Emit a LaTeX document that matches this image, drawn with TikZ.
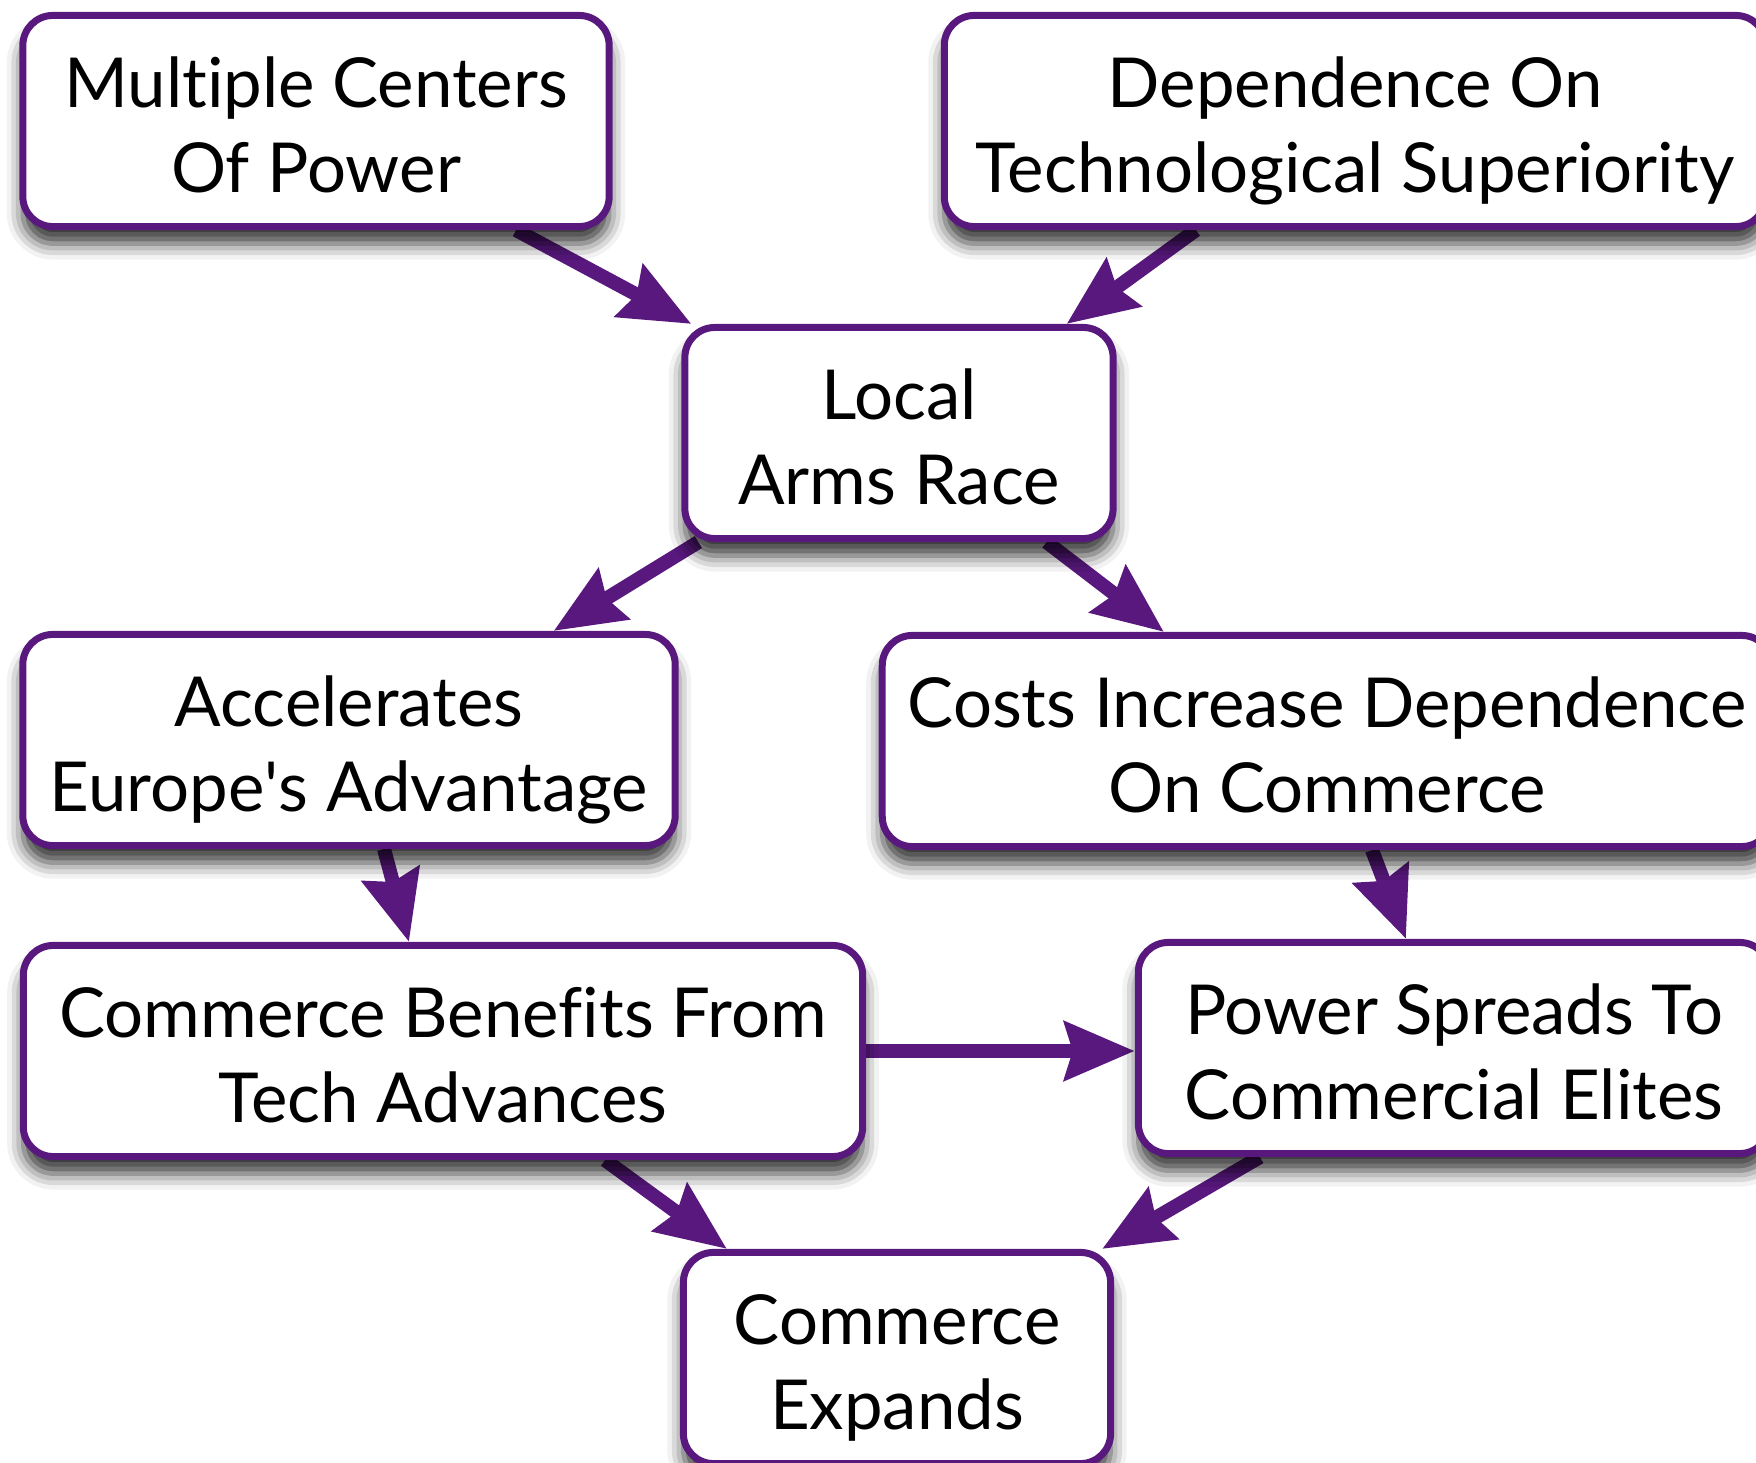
\documentclass[tikz,border=0pt]{standalone}
\usepackage{fontspec}
\setmainfont{Lato}[Ligatures=NoCommon]
\usetikzlibrary{arrows.meta,shadows.blur}

\definecolor{boxpurple}{RGB}{88,24,125}
\pgfdeclarelayer{background}
\pgfsetlayers{background,main}
\newcommand{\twolines}[2]{\rule{0pt}{22pt}#1\\#2\rule[-5.5pt]{0pt}{5.5pt}}

\begin{document}
\begin{tikzpicture}[x=0.01cm,y=-0.01cm,
    box/.style={draw=boxpurple,line width=0.07cm,rounded corners=0.3cm,fill=white,
        align=center,inner sep=0pt,minimum height=2.11cm,
        font=\fontsize{19.6pt}{24pt}\selectfont,
        blur shadow={shadow xshift=0cm,shadow yshift=-0.17cm,shadow blur radius=0.16cm,shadow opacity=80}},
    link/.style={color=boxpurple,line width=0.14cm,-{Stealth[length=0.7cm,width=0.58cm,inset=0.08cm]}}]
    \useasboundingbox (0,0) rectangle (1756,1463);
    % \draw[help lines] (0,0) grid[step=1cm] (1756,1463);

    \node[box,minimum width=5.86cm] (mcp) at (316,121) {\twolines{Multiple Centers}{Of Power}};
    \node[box,minimum width=8.21cm] (dep) at (1355,121) {\twolines{Dependence On}{Technological Superiority}};
    \node[box,minimum width=4.28cm] (lar) at (899,433) {\twolines{Local}{Arms Race}};
    \node[box,minimum width=6.52cm] (acc) at (349,740) {\twolines{Accelerates}{Europe\textquotesingle s Advantage}};
    \node[box,minimum width=8.89cm] (cid) at (1327,741) {\twolines{Costs Increase Dependence}{On Commerce}};
    \node[box,minimum width=8.39cm] (cbt) at (443,1051) {\twolines{Commerce Benefits From}{Tech Advances}};
    \node[box,minimum width=6.31cm] (pse) at (1454,1048) {\twolines{Power Spreads To}{Commercial Elites}};
    \node[box,minimum width=4.27cm] (cex) at (897,1358) {\twolines{Commerce}{Expands}};

    \begin{pgfonlayer}{background}
    \path[link]
        ([xshift=2cm]mcp.south)   edge ([xshift=0.1cm]lar.north west)
        ([xshift=-1.59cm]dep.south) edge ([xshift=-0.5cm]lar.north east)
        ([xshift=0.17cm]lar.south west) edge ([xshift=-1.25cm]acc.north east)
        ([xshift=-0.7cm]lar.south east) edge ([xshift=2.85cm]cid.north west)
        ([xshift=0.35cm]acc.south) edge ([xshift=-0.34cm]cbt.north)
        ([xshift=0.45cm]cid.south) edge ([xshift=-0.48cm]pse.north)
        (cbt.east)                 edge (cbt.east -| pse.west)
        ([xshift=1.62cm]cbt.south) edge ([xshift=0.47cm]cex.north west)
        ([xshift=-1.94cm]pse.south) edge ([xshift=-0.12cm]cex.north east);
    \end{pgfonlayer}
\end{tikzpicture}
\end{document}
